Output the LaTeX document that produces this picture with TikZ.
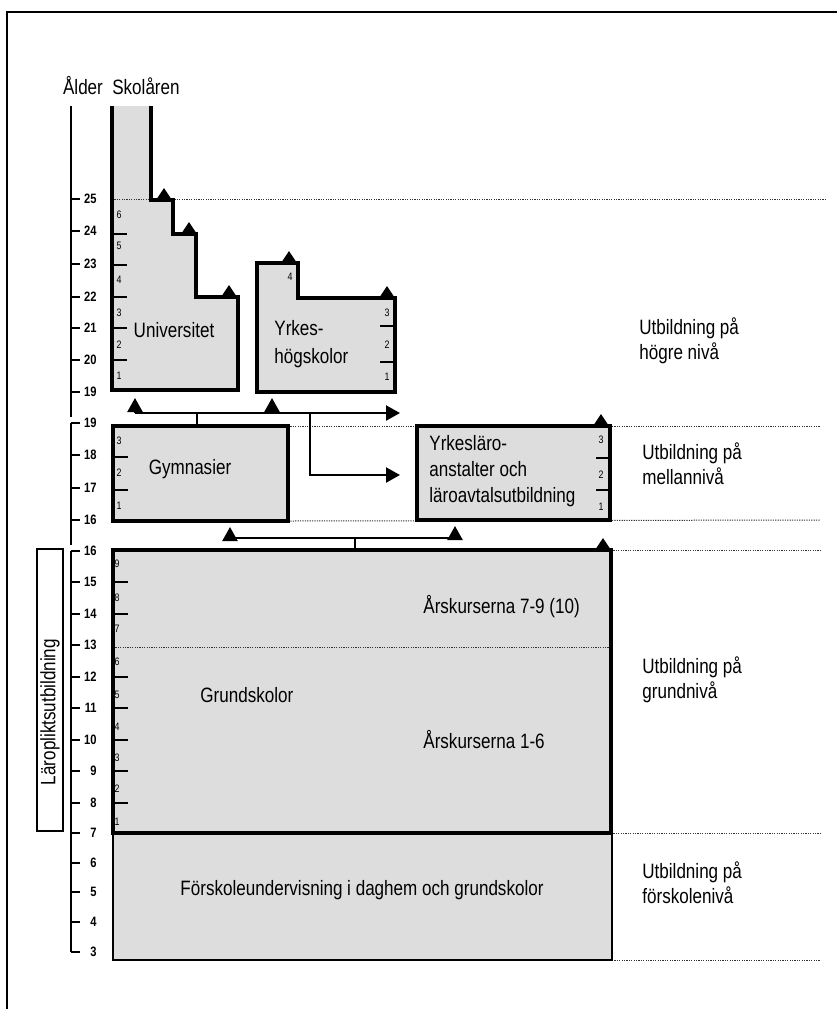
\documentclass[tikz,border=0pt]{standalone}
\usepackage{fontspec}
\setmainfont[FakeStretch=0.82]{Liberation Sans}
\usetikzlibrary{arrows.meta,calc}
\usepackage{tkz-euclide}

\tikzset{
  boxfill/.style={fill=gray!27},
  boxline/.style={line width=1.6pt,line join=miter},
  tick/.style={line width=0.8pt},
  levelline/.style={line width=0.5pt,dash pattern=on 0.6pt off 0.6pt,black!80},
  flow/.style={line width=1.1pt,-{Triangle[width=7.5pt,length=7pt]}},
  yearnum/.style={font=\fontsize{5.4}{5}\selectfont,inner sep=0pt},
  agenum/.style={font=\bfseries\fontsize{6.8}{6}\selectfont,inner sep=0pt,anchor=east},
  lbl/.style={font=\fontsize{10.4}{12.6}\selectfont,align=left,inner sep=0pt},
}
\newcommand\peakmark[1]{\fill ($(#1)+(-8,0)$) -- ($(#1)+(8,0)$) -- ($(#1)+(0,-12)$) -- cycle;}

\begin{document}
\begin{tikzpicture}[x=0.5pt,y=-0.5pt]
\useasboundingbox (0,0) rectangle (837,1009);
\draw[line width=0.6pt] (7,1009) -- (7,12) -- (837,12);

% corners of the boxes
\tkzDefPoints{112/106/U1,112/390/U2,238/390/U3,238/297/U4,196/297/U5,196/234/U6,173/234/U7,173/200/U8,151/200/U9,151/106/U10}
\tkzDefPoints{257/263/H1,298/263/H2,298/298/H3,395/298/H4,395/392/H5,257/392/H6}
\tkzDefPoints{113/426/G1,288/426/G2,288/521/G3,113/521/G4}
\tkzDefPoints{417/426/L1,610/426/L2,610/520/L3,417/520/L4}
\tkzDefPoints{113/550/S1,611/550/S2,611/833/S3,113/833/S4}
\tkzDefPoints{113/833/F1,612/833/F2,612/960/F3,113/960/F4}
% connector points
\tkzDefPoints{197/426/c0,197/413/c1,135/413/c2,400/413/c3,135/392/c4,272/413/c5,272/392/c6,310/413/c7,310/475/c8,400/475/c9}
\tkzDefPoints{355/550/d0,355/538/d1,230/538/d2,455/538/d3,230/521/d4,455/520/d5}

% level lines behind the boxes
\draw[levelline] (G2) -- (820,426);
\draw[levelline] (G3) -- (820,520);
\draw[levelline] (S2) -- (820,550);
\draw[levelline] (S3) -- (820,833);
\draw[levelline] (F3) -- (820,960);

\tkzFillPolygon[boxfill](U1,U2,U3,U4,U5,U6,U7,U8,U9,U10)
\tkzFillPolygon[boxfill](H1,H2,H3,H4,H5,H6)
\tkzFillPolygon[boxfill](G1,G2,G3,G4)
\tkzFillPolygon[boxfill](L1,L2,L3,L4)
\tkzFillPolygon[boxfill](S1,S2,S3,S4)
\tkzFillPolygon[boxfill](F1,F2,F3,F4)

\draw[levelline] (112,199) -- (825,199);
\draw[levelline] (113,647) -- (611,647);

\draw[boxline] (U1) -- (U2) -- (U3) -- (U4) -- (U5) -- (U6) -- (U7) -- (U8) -- (U9) -- (U10);
\draw[boxline] (H1) -- (H2) -- (H3) -- (H4) -- (H5) -- (H6) -- cycle;
\draw[boxline] (G1) -- (G2) -- (G3) -- (G4) -- cycle;
\draw[boxline] (L1) -- (L2) -- (L3) -- (L4) -- cycle;
\draw[line width=0.8pt] (F1) -- (F2) -- (F3) -- (F4) -- cycle;
\draw[boxline] (S1) -- (S2) -- (S3) -- (S4) -- cycle;

% year ticks inside the boxes
\foreach \y in {234,265,297,328,360} \draw[tick] (112,\y) -- (127,\y);
\foreach \y in {326,362} \draw[tick] (380,\y) -- (395,\y);
\foreach \y in {457,490} \draw[tick] (113,\y) -- (128,\y);
\foreach \y in {458,490} \draw[tick] (596,\y) -- (610,\y);
\foreach \y in {582,614,677,708,740,771,803} \draw[tick] (113,\y) -- (128,\y);

\foreach \y/\n in {376/1,345/2,313/3,280/4,246/5,215/6} \node[yearnum] (uni\n) at (119,\y) {\n};
\foreach \y/\n in {377/1,345/2,313/3} \node[yearnum] (yhs\n) at (387,\y) {\n};
\node[yearnum] (yhs4) at (290,277) {4};
\foreach \y/\n in {506/1,473/2,441/3} \node[yearnum] (gym\n) at (119,\y) {\n};
\foreach \y/\n in {507/1,475/2,440/3} \node[yearnum] (yla\n) at (601,\y) {\n};
\foreach \y/\n in {822/1,789/2,758/3,727/4,695/5,662/6,629/7,598/8,564/9} \node[yearnum] (grs\n) at (117,\y) {\n};

% markers on the box tops
\peakmark{164,200} \peakmark{189,234} \peakmark{229,297}
\peakmark{289,263} \peakmark{387,298}
\peakmark{601,426} \peakmark{603,550}

% connectors
\draw[line width=1.1pt] (c0) -- (c1);
\draw[flow] (c2) -- (c3);
\draw[flow,shorten >=3pt] (c2) -- (c4);
\draw[flow,shorten >=3pt] (c5) -- (c6);
\draw[flow] (c7) -- (c8) -- (c9);
\draw[line width=1.1pt] (d0) -- (d1);
\draw[line width=1.1pt] (d2) -- (d3);
\draw[flow,shorten >=3pt] (d2) -- (d4);
\draw[flow,shorten >=3pt] (d3) -- (d5);

% age axis
\draw[line width=1pt] (71,106) -- (71,417);
\draw[line width=1pt] (71,423) -- (71,545);
\draw[line width=1pt] (71,551) -- (71,952);
\foreach \y/\a in {199/25,231/24,264/23,297/22,328/21,360/20,392/19,423/19,455/18,488/17,520/16,551/16,582/15,614/14,645/13,677/12,708/11,740/10,771/9,803/8,833/7,863/6,892/5,922/4,952/3}
  {\draw[tick,line width=1pt] (71,\y) -- (80,\y); \node[agenum] (a\y) at (97,\y) {\a};}

\draw[line width=0.8pt] (37,549) rectangle (63,831);
\node[lbl,rotate=90] (plikt) at (50,712) {Läropliktsutbildning};

% texts
\node[lbl] (alder) at (83,86) {Ålder};
\node[lbl] (skolar) at (146,86) {Skolåren};
\node[lbl] (univ) at (174,330) {Universitet};
\node[lbl,anchor=west,font=\fontsize{10.4}{14}\selectfont] (yhs) at (274,344) {Yrkes-\\högskolor};
\node[lbl] (gymn) at (190,469) {Gymnasier};
\node[lbl,anchor=north west,font=\fontsize{10.4}{13}\selectfont] (yla) at (429,435) {Yrkesläro-\\anstalter och\\läroavtalsutbildning};
\node[lbl,anchor=west] (ak79) at (423,607) {Årskurserna 7-9 (10)};
\node[lbl,anchor=west] (grund) at (200,695) {Grundskolor};
\node[lbl,anchor=west] (ak16) at (423,740) {Årskurserna 1-6};
\node[lbl] (forsk) at (362,890) {Förskoleundervisning i daghem och grundskolor};

\node[lbl,anchor=north west] (hogre) at (639,317) {Utbildning på\\högre nivå};
\node[lbl,anchor=north west] (mellan) at (642,442) {Utbildning på\\mellannivå};
\node[lbl,anchor=north west] (grundn) at (642,656) {Utbildning på\\grundnivå};
\node[lbl,anchor=north west] (forskn) at (642,861) {Utbildning på\\förskolenivå};

\end{tikzpicture}
\end{document}
